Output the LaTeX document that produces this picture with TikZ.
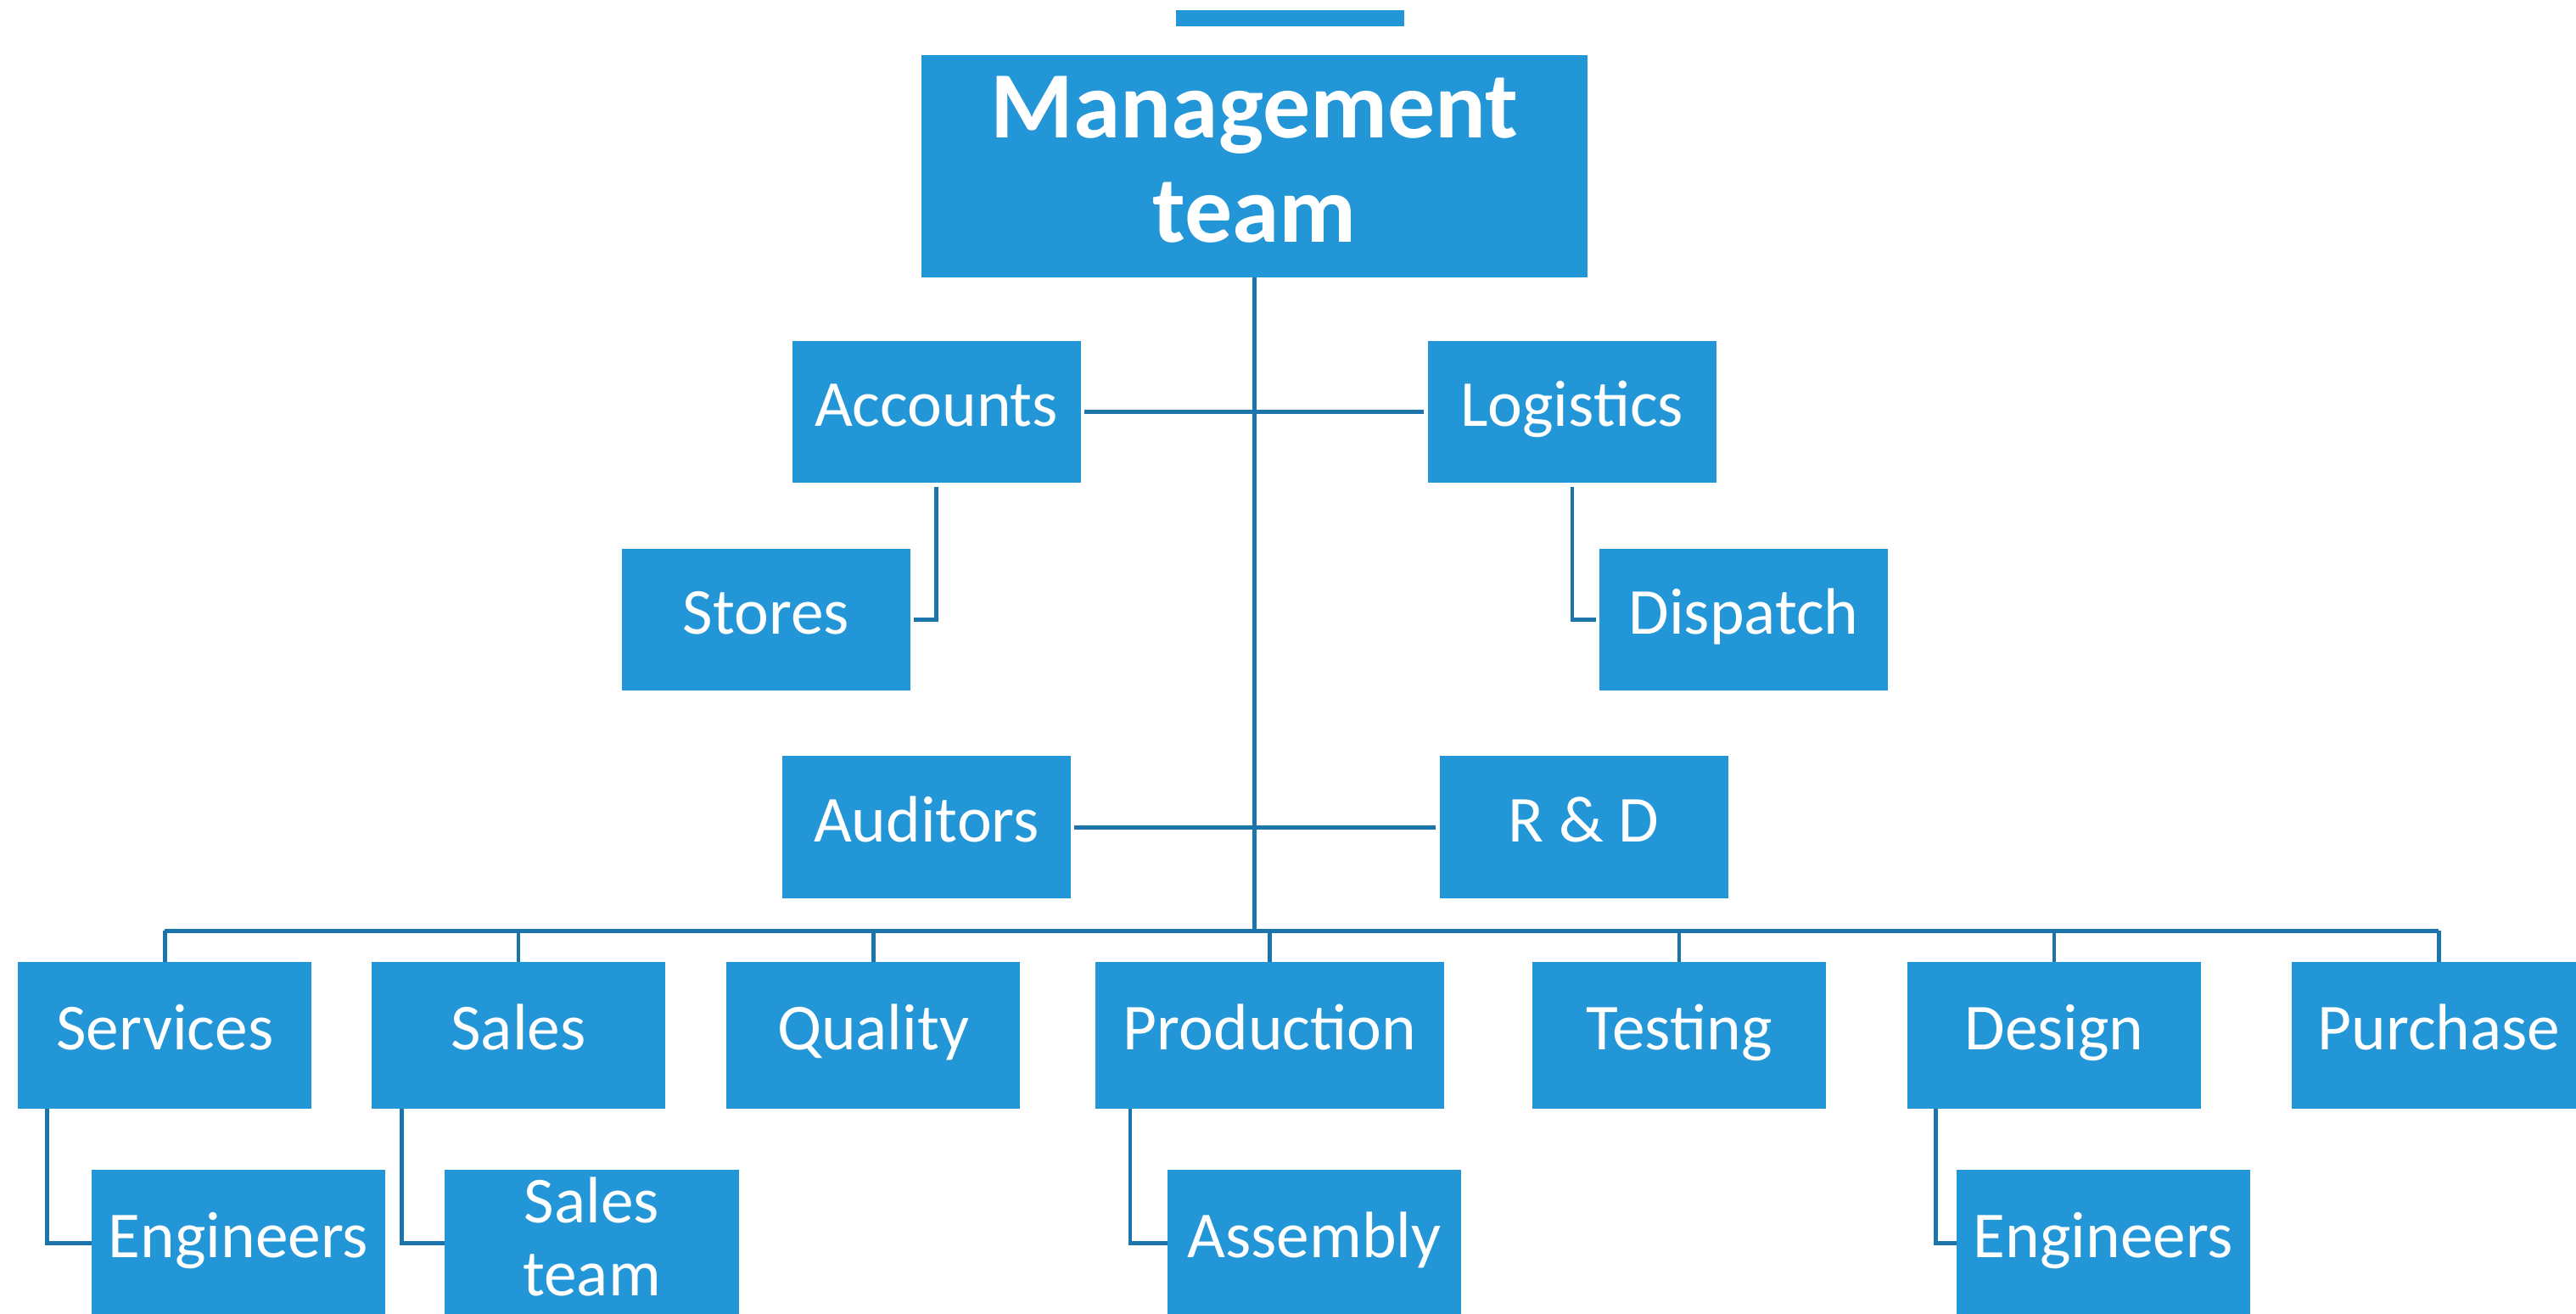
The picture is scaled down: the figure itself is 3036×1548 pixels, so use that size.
\documentclass[tikz,border=0pt]{standalone}
\usepackage{fontspec}
\setmainfont{Carlito}
\definecolor{boxblue}{RGB}{34,150,214}
\definecolor{lineblue}{RGB}{27,117,172}
\begin{document}
\begin{tikzpicture}[x=0.01cm,y=-0.01cm,
  box/.style={fill=boxblue, inner sep=0pt, outer sep=0pt, text=white, align=center,
              font=\fontsize{22}{24.4}\selectfont},
  one/.style={box, text height=14.3pt, text depth=4.4pt},
  lvl/.style={one, minimum width=3.4cm, minimum height=1.676cm},
  bot/.style={one, minimum width=3.46cm, minimum height=1.727cm},
  conn/.style={draw=lineblue, line width=1.25pt}]
\useasboundingbox (0,0) rectangle (3036,1548);

% top bar and management
\node[box, minimum width=2.69cm, minimum height=0.19cm] (bar) at (1520.5,21.5) {};
\node[box, minimum width=7.85cm, minimum height=2.62cm,
      font=\bfseries\fontsize{31.8}{35}\selectfont] (mgmt) at (1478.5,196)
      {Management\\team\rule[-0.16cm]{0pt}{0.16cm}};

% middle levels
\node[lvl] (acc) at (1103.6,485.5) {Accounts};
\node[lvl] (log) at (1852.7,485.5) {Logistics};
\node[lvl] (sto) at (903,730.5) {Stores};
\node[lvl] (dis) at (2055,730.5) {Dispatch};
\node[lvl] (aud) at (1092,975.3) {Auditors};
\node[lvl] (rnd) at (1866.6,975.3) {R \& D};

% bottom row
\node[bot] (ser) at (194.3,1220.3) {Services};
\node[bot] (sal) at (611,1220.3) {Sales};
\node[bot] (qua) at (1029.3,1220.3) {Quality};
\node[bot, minimum width=4.11cm] (pro) at (1496.4,1220.3) {Production};
\node[bot] (tes) at (1979,1220.3) {Testing};
\node[bot] (des) at (2421,1220.3) {Design};
\node[bot] (pur) at (2874.4,1220.3) {Purchase};

% sub boxes
\node[bot] (eng1) at (281,1465.4) {Engineers};
\node[box, minimum width=3.46cm, minimum height=1.727cm] (salt) at (697.5,1465.4)
      {Sales\\team\rule[-0.16cm]{0pt}{0.16cm}};
\node[bot] (asm) at (1549,1465.4) {Assembly};
\node[bot] (eng2) at (2479,1465.4) {Engineers};

% connectors
\coordinate (busY) at (1478,1097.3);
\draw[conn] (mgmt.south) -- (mgmt.south |- busY);
\draw[conn] (ser.north |- busY) -- (pur.north |- busY);
\foreach \n in {ser,sal,qua,pro,tes,des,pur}
  \draw[conn] (\n.north) -- (\n.north |- busY);

\draw[conn, shorten <=1.2pt, shorten >=1.2pt] (acc.east) -- (log.west);
\draw[conn, shorten <=1.2pt, shorten >=1.2pt] (aud.east) -- (rnd.west);
\draw[conn] ([yshift=-1.4pt]acc.south) |- ([xshift=1.2pt]sto.east);
\draw[conn] ([yshift=-1.4pt]log.south) |- ([xshift=-1.2pt]dis.west);

\draw[conn] ([xshift=0.343cm]ser.south west) |- (eng1.west);
\draw[conn] ([xshift=0.356cm]sal.south west) |- (salt.west);
\draw[conn] ([xshift=0.41cm]pro.south west) |- (asm.west);
\draw[conn] ([xshift=0.336cm]des.south west) |- (eng2.west);
\end{tikzpicture}
\end{document}
